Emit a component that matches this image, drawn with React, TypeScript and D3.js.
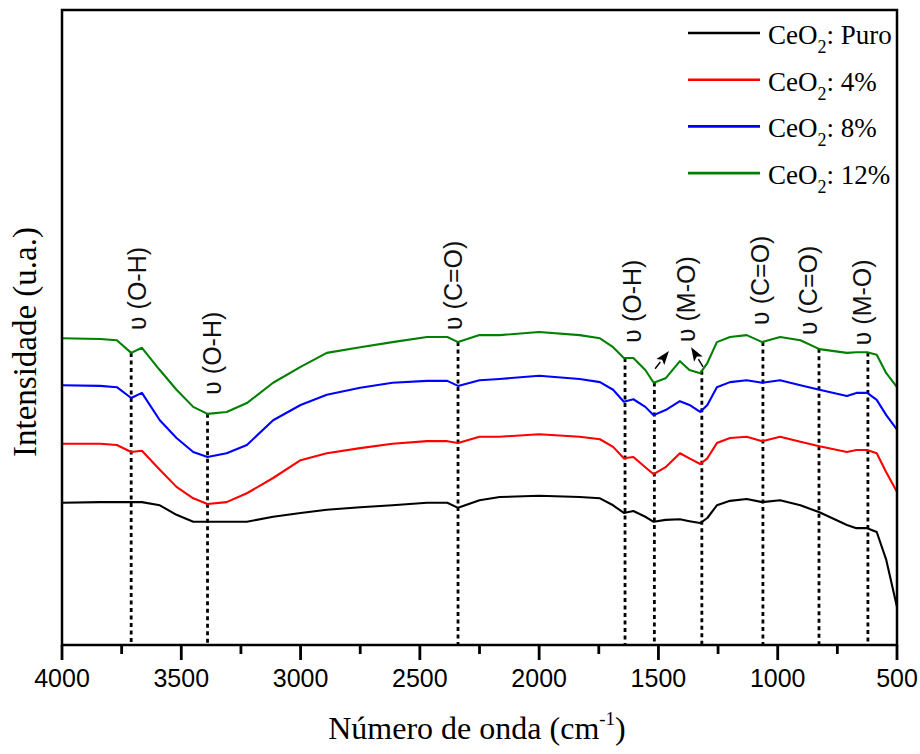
import { scaleLinear, line as d3line } from "d3";

// wavenumber grid (cm-1) shared by every spectrum
const wavenumbers = [4000, 3840, 3770, 3710, 3665, 3590, 3520, 3450, 3390, 3310, 3225, 3115, 3000, 2890, 2750, 2615, 2470, 2385, 2340, 2250, 2165, 2000, 1830, 1745, 1690, 1645, 1605, 1555, 1520, 1470, 1410, 1370, 1325, 1295, 1255, 1200, 1130, 1065, 990, 905, 825, 710, 670, 625, 585, 545, 500];

const puro = [22.4, 22.5, 22.5, 22.5, 22.5, 22.0, 20.5, 19.4, 19.4, 19.4, 19.4, 20.2, 20.8, 21.3, 21.7, 22.0, 22.4, 22.4, 21.6, 22.8, 23.3, 23.5, 23.3, 23.1, 22.0, 20.8, 21.1, 20.2, 19.4, 19.7, 19.8, 19.5, 19.2, 20.0, 22.0, 22.7, 23.0, 22.5, 22.8, 22.0, 20.9, 18.9, 18.4, 18.4, 17.8, 13.4, 6.0];
const ceo4 = [31.7, 31.7, 31.5, 30.4, 30.6, 27.6, 24.9, 23.1, 22.2, 22.5, 23.9, 26.3, 29.1, 30.2, 31.0, 31.7, 32.1, 32.1, 31.8, 32.8, 32.8, 33.2, 32.8, 32.4, 31.2, 29.4, 29.6, 28.0, 26.9, 28.0, 30.2, 29.4, 28.5, 29.4, 31.8, 32.6, 32.8, 32.1, 32.8, 32.0, 31.3, 30.4, 30.7, 30.7, 30.2, 27.2, 24.1];
const ceo8 = [40.9, 40.8, 40.6, 38.9, 39.7, 35.4, 32.6, 30.4, 29.6, 30.2, 31.5, 35.4, 37.8, 39.4, 40.5, 41.3, 41.6, 41.6, 40.8, 41.7, 41.9, 42.4, 41.9, 41.4, 40.2, 38.3, 38.7, 37.5, 36.2, 37.0, 38.4, 37.8, 36.7, 37.8, 40.6, 41.4, 41.7, 41.3, 41.7, 40.9, 40.2, 39.2, 39.7, 39.7, 38.6, 36.2, 33.9];
const ceo12 = [48.3, 48.2, 48.0, 46.0, 46.8, 43.3, 40.2, 37.5, 36.4, 36.7, 38.1, 41.3, 43.8, 46.0, 46.9, 47.7, 48.5, 48.5, 47.7, 48.8, 48.8, 49.3, 48.8, 48.3, 46.9, 45.2, 45.2, 43.3, 41.3, 42.0, 44.7, 43.3, 42.8, 44.4, 47.7, 48.5, 48.8, 47.7, 48.5, 48.0, 46.6, 46.0, 46.1, 46.1, 45.7, 42.8, 40.6];

const seriesNames = ["Puro", "4%", "8%", "12%"];
const seriesValues = [puro, ceo4, ceo8, ceo12];
const seriesColors = ["#000000", "#ff0000", "#0000ff", "#008000"];

const xTicks = [4000, 3500, 3000, 2500, 2000, 1500, 1000, 500];
const xMinorTicks = [3750, 3250, 2750, 2250, 1750, 1250, 750];

// band markers
const bandLines = [3710, 3390, 2340, 1640, 1517, 1318, 1062, 827, 622];
const bandLabels = ["ʋ (O-H)", "ʋ (O-H)", "ʋ (C=O)", "ʋ (O-H)", "ʋ (M-O)", "ʋ (C=O)", "ʋ (C=O)", "ʋ (M-O)"];
const labelWavenumbers = [3686, 3371, 2361, 1609, 1384, 1074, 873, 647];
const labelBase = [49.6, 39.4, 49.6, 47.6, 47.7, 50.4, 48.8, 47.2];
const arrowFrom = [[1514, 43.5], [1313, 43.8]];
const arrowTo = [[1456, 46.3], [1363, 46.9]];

const W = 920;
const H = 754;
const M = { left: 62, right: 897, top: 10, bottom: 645 };

export default function App() {
  const x = scaleLinear().domain([4000, 500]).range([M.left, M.right]);
  const y = scaleLinear().domain([0, 100]).range([M.bottom, M.top]);
  // top curve, used to start the dotted band lines
  const topCurve = scaleLinear().domain(wavenumbers).range(ceo12);

  const line = d3line<number>()
    .x((_, i) => x(wavenumbers[i]))
    .y((d) => y(d));

  const sans = "'Liberation Sans', Arial, 'DejaVu Sans', sans-serif";
  const serif = "'Liberation Serif', 'Times New Roman', serif";

  return (
    <div style={{ position: "absolute", left: 0, top: 0 }}>
      <style>{`body{margin:0}`}</style>
      <svg width={W} height={H} style={{ display: "block", background: "#fff" }}>
        {/* dotted band lines */}
        {bandLines.map((w, i) => (
          <line
            key={"b" + i}
            x1={x(w)}
            x2={x(w)}
            y1={y(topCurve(w))}
            y2={M.bottom}
            stroke="#000"
            strokeWidth={2.8}
            strokeDasharray="4 3.5"
          />
        ))}

        {/* spectra */}
        {seriesValues.map((vals, i) => (
          <path key={"s" + i} d={line(vals) ?? undefined} fill="none" stroke={seriesColors[i]} strokeWidth={2.1} strokeLinejoin="round" />
        ))}

        {/* band labels */}
        {bandLabels.map((t, i) => (
          <text
            key={"l" + i}
            transform={`translate(${x(labelWavenumbers[i])},${y(labelBase[i])}) rotate(-90)`}
            dominantBaseline="central"
            fontFamily={sans}
            fontSize={25}
            fill="#111"
          >
            {t}
          </text>
        ))}

        {/* arrows */}
        {arrowFrom.map((f, i) => {
          const x1 = x(f[0]);
          const y1 = y(f[1]);
          const x2 = x(arrowTo[i][0]);
          const y2 = y(arrowTo[i][1]);
          const a = Math.atan2(y2 - y1, x2 - x1);
          const len = 14;
          const wd = 5;
          const bx = x2 - len * Math.cos(a);
          const by = y2 - len * Math.sin(a);
          const px = -Math.sin(a) * wd;
          const py = Math.cos(a) * wd;
          return (
            <g key={"a" + i}>
              <line x1={x1} y1={y1} x2={bx} y2={by} stroke="#000" strokeWidth={1.4} />
              <path d={`M${x2},${y2}L${bx + px},${by + py}L${bx + 3 * Math.cos(a)},${by + 3 * Math.sin(a)}L${bx - px},${by - py}Z`} fill="#000" />
            </g>
          );
        })}

        {/* frame */}
        <rect x={M.left} y={M.top} width={M.right - M.left} height={M.bottom - M.top} fill="none" stroke="#000" strokeWidth={2.5} />

        {/* x axis ticks */}
        {xTicks.map((t) => (
          <g key={"t" + t}>
            <line x1={x(t)} x2={x(t)} y1={M.bottom} y2={M.bottom + 15} stroke="#000" strokeWidth={2.8} />
            <text x={x(t)} y={687} textAnchor="middle" fontFamily={sans} fontSize={25} fill="#000">
              {t}
            </text>
          </g>
        ))}
        {xMinorTicks.map((t) => (
          <line key={"m" + t} x1={x(t)} x2={x(t)} y1={M.bottom} y2={M.bottom + 9} stroke="#000" strokeWidth={2.8} />
        ))}

        {/* axis titles */}
        <text x={477} y={739} textAnchor="middle" fontFamily={serif} fontSize={32} fill="#000">
          Número de onda (cm
          <tspan fontSize={19} dy={-14}>-1</tspan>
          <tspan dy={14}>)</tspan>
        </text>
        <text
          transform={`translate(25,342) rotate(-90)`}
          textAnchor="middle"
          dominantBaseline="central"
          fontFamily={serif}
          fontSize={33}
          fill="#000"
        >
          Intensidade (u.a.)
        </text>

        {/* legend */}
        {seriesNames.map((n, i) => {
          const ly = 33 + i * 46.7;
          return (
            <g key={"g" + i}>
              <line x1={688} x2={760} y1={ly} y2={ly} stroke={seriesColors[i]} strokeWidth={2.6} />
              <text x={768} y={ly + 11} fontFamily={serif} fontSize={27} fill="#000">
                CeO
                <tspan fontSize={18} dy={9}>2</tspan>
                <tspan dy={-9}>: {n}</tspan>
              </text>
            </g>
          );
        })}
      </svg>
    </div>
  );
}
